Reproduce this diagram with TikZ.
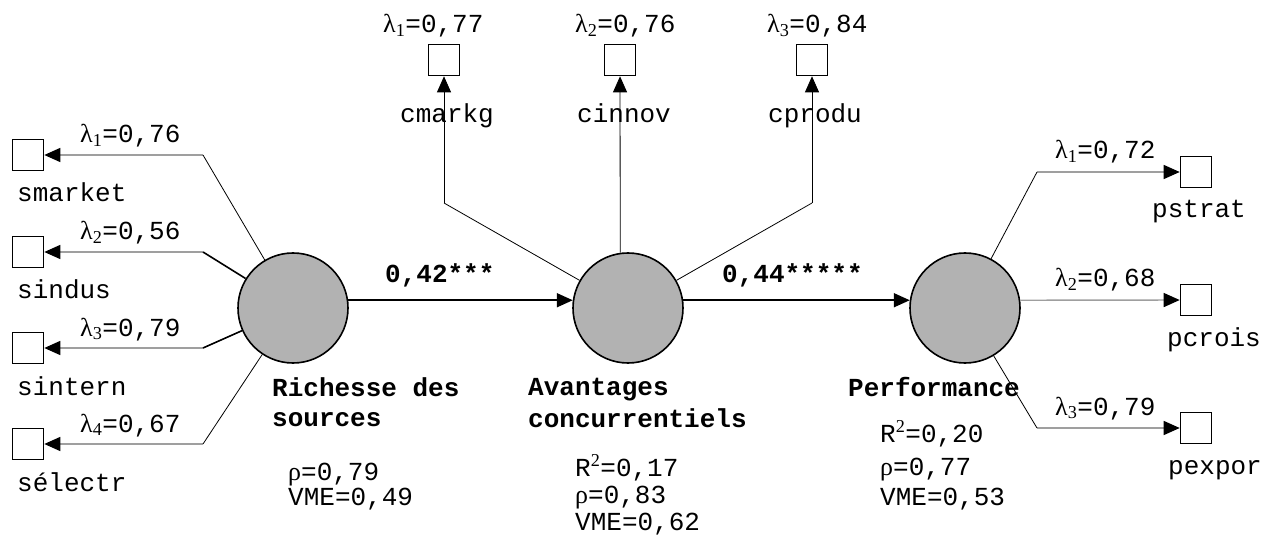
\documentclass[tikz,border=0pt]{standalone}
\usepackage{fontspec}
\setmainfont{Liberation Mono}
\newfontfamily\grk{Liberation Serif}
\usetikzlibrary{arrows.meta,positioning}
\newcommand{\lam}[1]{{\grk λ\textsubscript{#1}}}
\newcommand{\rh}{{\grk ρ}}
\newcommand{\Rsq}{R{\grk\textsuperscript{2}}}

\begin{document}
\begin{tikzpicture}[
    x=1pt,
    y=-1pt,
    every node/.style={
      font=\fontsize{26}{30}\selectfont,
      inner sep=0pt
      },
    latent/.style={
      draw,
      circle,
      fill=gray!60,
      line width=1.6pt,
      minimum size=110pt
      },
    indic/.style={
      draw,
      rectangle,
      line width=1.6pt,
      minimum size=31pt
      },
    txt/.style={anchor=base west},
    bold/.style={anchor=base west, font=\fontsize{26}{30}\selectfont\bfseries},
    load/.style={draw=gray!75, line width=1.4pt, -{Triangle[length=16pt,width=14pt,color=black]}},
    upload/.style={line width=0.8pt, -{Triangle[length=16pt,width=14pt]}},
    stem/.style={line width=0.8pt},
    stemthick/.style={line width=1.6pt},
    coef/.style={line width=1.8pt, -{Triangle[length=16pt,width=14pt]}}
    ]
    \fill[white] (0,0) rectangle (1277,545);
    \useasboundingbox (0,0) rectangle (1277,545);
    % latent variables
    \node[latent] (rs) at (293,308) {};
    \node[latent] (ac) at (628,308) {};
    \node[latent] (pf) at (965,308) {};
    % sources indicators
    \foreach \nm/\yy/\lb/\val/\st/\txtnm in {smarket/155/1/76/stem/smarket, sindus/252/2/56/stemthick/sindus, sintern/348/3/79/stemthick/sintern, selectr/444/4/67/stem/sélectr}
    {
      \node[indic] (\nm) at (28,\yy) {};
      \coordinate (k\nm) at (203,\yy);
      \node[txt] (l\nm) at (80,\yy-12) {\lam{\lb}=0,\val};
      \node[txt] (n\nm) at (17,\yy+47) {\txtnm};
      \draw[load] (k\nm) -- (\nm);
      \draw[\st] (k\nm) -- (rs);
    }
    % avantages indicators
    \foreach \nm/\xx/\lb/\val/\lx/\nx in {cmarkg/444/1/77/383/400, cinnov/620/2/76/575/577, cprodu/812/3/84/767/768}
    {
      \node[indic] (\nm) at (\xx,60) {};
      \node[txt] (l\nm) at (\lx,33) {\lam{\lb}=0,\val};
      \node[txt] (n\nm) at (\nx,123) {\nm};
    }
    \coordinate (kcmarkg) at (444,203);
    \coordinate (kcprodu) at (812,203);
    \draw[upload] (kcmarkg) -- (cmarkg);
    \draw[stem] (kcmarkg) -- (ac);
    \draw[upload] (ac.98) -- (cinnov);
    \draw[upload] (kcprodu) -- (cprodu);
    \draw[stem] (kcprodu) -- (ac);
    % performance indicators
    \foreach \nm/\yy/\lb/\val/\nx in {pstrat/172/1/72/1152, pcrois/300/2/68/1167, pexpor/428/3/79/1168}
    {
      \node[indic] (\nm) at (1196,\yy) {};
      \node[txt] (l\nm) at (1055,\yy-13) {\lam{\lb}=0,\val};
      \node[txt] (n\nm) at (\nx,\yy+46) {\nm};
    }
    \coordinate (kpstrat) at (1037,172);
    \coordinate (kpexpor) at (1037,428);
    \draw[load] (kpstrat) -- (pstrat);
    \draw[stem] (kpstrat) -- (pf);
    \draw[load] (pf.8) -- (pcrois);
    \draw[load] (kpexpor) -- (pexpor);
    \draw[stem] (kpexpor) -- (pf);
    % structural paths
    \draw[coef] (rs.8) -- (ac.172);
    \draw[coef] (ac.8) -- (pf.172);
    \node[bold] (c1) at (385,283) {0,42***};
    \node[bold] (c2) at (722,283) {0,44*****};
    % construct labels
    \node[bold] (trs1) at (272,396) {Richesse des};
    \node[bold] (trs2) at (272,426) {sources};
    \node[txt] (rsrho) at (288,480) {\rh=0,79};
    \node[txt] (rsvme) at (288,505) {VME=0,49};
    \node[bold] (tac1) at (528,395) {Avantages};
    \node[bold] (tac2) at (528,427) {concurrentiels};
    \node[txt] (acrsq) at (575,476) {\Rsq=0,17};
    \node[txt] (acrho) at (575,503) {\rh=0,83};
    \node[txt] (acvme) at (575,530) {VME=0,62};
    \node[bold] (tpf) at (848,396) {Performance};
    \node[txt] (pfrsq) at (880,442) {\Rsq=0,20};
    \node[txt] (pfrho) at (880,475) {\rh=0,77};
    \node[txt] (pfvme) at (880,505) {VME=0,53};
\end{tikzpicture}
\end{document}
